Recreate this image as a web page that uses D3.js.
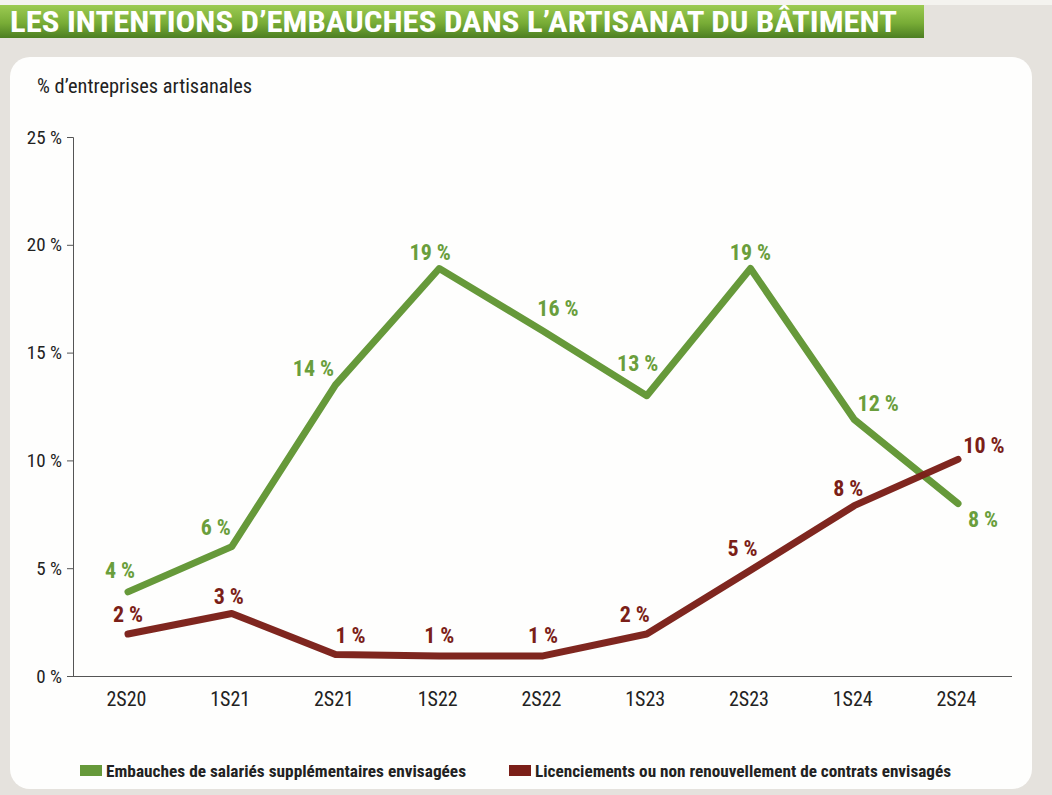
<!DOCTYPE html>
<html><head><meta charset="utf-8">
<script src="https://cdn.jsdelivr.net/npm/d3@7"></script>
<style>
html,body{margin:0;padding:0;background:#e5e2dd;}
svg{display:block;}
</style></head>
<body>
<svg id="chart" width="1052" height="795"></svg>
<script>
const categories = ["2S20","1S21","2S21","1S22","2S22","1S23","2S23","1S24","2S24"];
const hiring = [3.9, 6.0, 13.5, 18.9, 16.0, 13.0, 18.9, 11.9, 8.0];
const hiringLabels = ["4 %","6 %","14 %","19 %","16 %","13 %","19 %","12 %","8 %"];
const layoffs = [1.95, 2.9, 1.0, 0.93, 0.93, 1.95, 4.9, 7.9, 10.05];
const layoffsLabels = ["2 %","3 %","1 %","1 %","1 %","2 %","5 %","8 %","10 %"];
const yTicks = [0, 5, 10, 15, 20, 25];
const seriesNames = ["Embauches de salariés supplémentaires envisagées","Licenciements ou non renouvellement de contrats envisagés"];

const GREEN = "#66993a", RED = "#7b1f18";
const FONT = "'Liberation Sans Narrow','Roboto Condensed','Liberation Sans',Arial,sans-serif";

const svg = d3.select("#chart");
const defs = svg.append("defs");
const grad = defs.append("linearGradient").attr("id","tg").attr("x1",0).attr("y1",0).attr("x2",0).attr("y2",1);
grad.append("stop").attr("offset","0%").attr("stop-color","#9ccb52");
grad.append("stop").attr("offset","55%").attr("stop-color","#78ac36");
grad.append("stop").attr("offset","100%").attr("stop-color","#4c7e22");

svg.append("rect").attr("x",0).attr("y",0).attr("width",1052).attr("height",5).attr("fill","#f4f3ef");
svg.append("rect").attr("x",0).attr("y",5).attr("width",924).attr("height",33).attr("fill","url(#tg)");
svg.append("text").attr("x",10).attr("y",32).attr("fill","#fff")
  .attr("font-family",FONT).attr("font-weight","bold").attr("font-size",29)
  .attr("textLength",887).attr("lengthAdjust","spacingAndGlyphs")
  .text("LES INTENTIONS D’EMBAUCHES DANS L’ARTISANAT DU BÂTIMENT");

svg.append("rect").attr("x",10).attr("y",57).attr("width",1022).attr("height",732)
  .attr("rx",20).attr("fill","#fefefd");

const x = d3.scalePoint().domain(categories).range([128, 958]);
const y = d3.scaleLinear().domain([0,25]).range([676,137]);

svg.append("text").attr("x",37).attr("y",93).attr("fill","#222")
  .attr("font-family",FONT).attr("font-size",20)
  .attr("textLength",215).attr("lengthAdjust","spacingAndGlyphs")
  .text("% d’entreprises artisanales");

// y axis
const yAxis = svg.append("g").attr("transform","translate(73,0)")
  .call(d3.axisLeft(y).tickValues(yTicks).tickSize(6).tickPadding(5).tickFormat(d => d + " %"));
yAxis.select(".domain").attr("stroke","#555").attr("d","M-6,137.5H0.5V676.5");
yAxis.selectAll(".tick line").attr("stroke","#555");
yAxis.selectAll(".tick text").attr("font-family",FONT).attr("font-size",19).attr("fill","#222");

// x axis
const xAxis = svg.append("g").attr("transform","translate(0,676)")
  .call(d3.axisBottom(x).tickSize(0).tickPadding(16));
xAxis.select(".domain").attr("stroke","#555").attr("d","M73,0.5H1012");
xAxis.selectAll(".tick text").attr("font-family",FONT).attr("font-size",20).attr("fill","#222")
  .attr("dx",-2);

const line = d3.line().x((d,i)=>x(categories[i])).y(d=>y(d));
svg.append("path").datum(hiring).attr("d",line).attr("fill","none").attr("stroke",GREEN)
  .attr("stroke-width",7).attr("stroke-linejoin","round").attr("stroke-linecap","round");
svg.append("path").datum(layoffs).attr("d",line).attr("fill","none").attr("stroke",RED)
  .attr("stroke-width",7).attr("stroke-linejoin","round").attr("stroke-linecap","round")
  .attr("opacity",0.97);

// label offsets (dx, dy) relative to points
const hOff = [[-8,-14],[-16,-12],[-22,-9],[-9,-9],[15,-15],[-9,-25],[0,-9],[24,-8],[25,23]];
const lOff = [[0,-12],[-3,-9],[15,-11],[0,-13],[0,-13],[-12,-12],[-8,-14],[-6,-10],[26,-6]];
function labels(vals, txts, offs, color){
  svg.append("g").selectAll("text").data(vals).join("text")
    .attr("x",(d,i)=>x(categories[i])+offs[i][0])
    .attr("y",(d,i)=>y(d)+offs[i][1])
    .attr("text-anchor","middle").attr("fill",color)
    .attr("font-family",FONT).attr("font-weight","bold").attr("font-size",22)
    .text((d,i)=>txts[i]);
}
labels(hiring, hiringLabels, hOff, "#6a9e3c");
labels(layoffs, layoffsLabels, lOff, RED);

// legend
const legend = [
  {name: seriesNames[0], color: GREEN, x: 80, len: 360},
  {name: seriesNames[1], color: RED, x: 509, len: 416}
];
const lg = svg.append("g");
lg.selectAll("rect").data(legend).join("rect")
  .attr("x",d=>d.x).attr("y",765).attr("width",22).attr("height",11).attr("fill",d=>d.color);
lg.selectAll("text").data(legend).join("text")
  .attr("x",d=>d.x+26).attr("y",777).attr("fill","#222")
  .attr("font-family",FONT).attr("font-weight","bold").attr("font-size",17)
  .attr("textLength",d=>d.len).attr("lengthAdjust","spacingAndGlyphs")
  .text(d=>d.name);
</script>
</body></html>
